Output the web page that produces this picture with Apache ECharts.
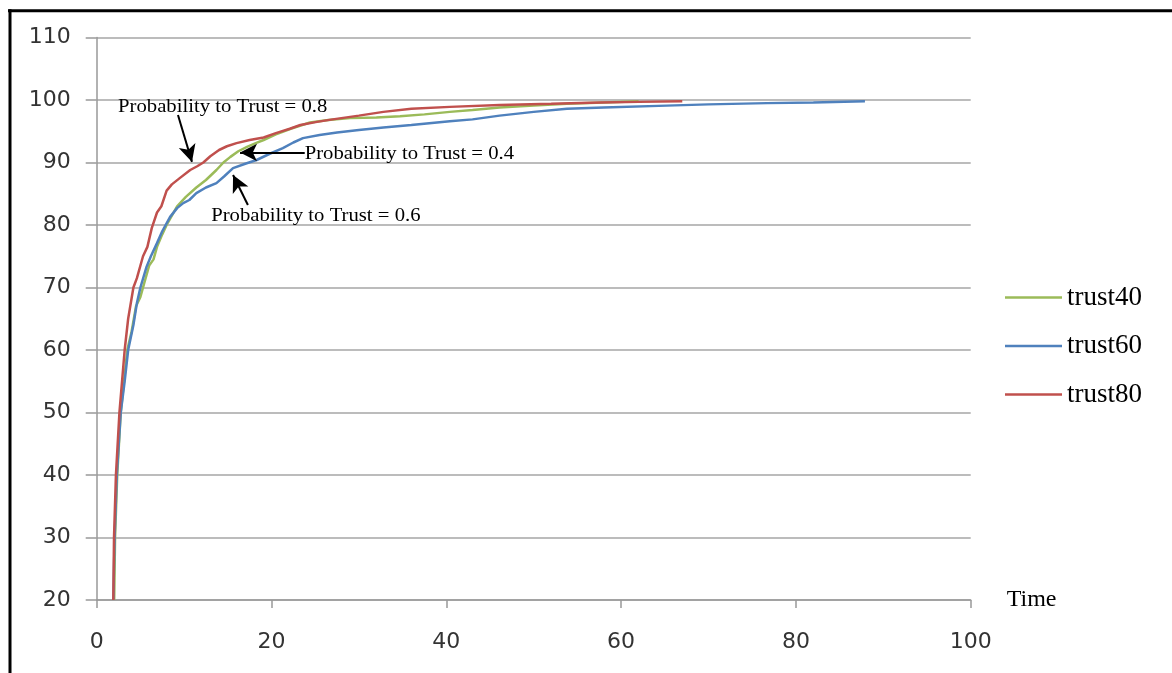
<!DOCTYPE html>
<html><head><meta charset="utf-8">
<script src="https://cdn.jsdelivr.net/npm/echarts@6/dist/echarts.min.js"></script>
<style>html,body{margin:0;padding:0;background:#fff}#c{width:1172px;height:673px}</style>
</head><body><div id="c"></div>
<script>
const seriesNames = ['trust40', 'trust60', 'trust80'];
const seriesColors = ['#9bbb59', '#4f81bd', '#c0504d'];

const trust40 = [[2.0,20],[2.1,30],[2.35,40],[2.75,50],[3.5,60],[4.0,63],[4.5,67],[5.0,68.5],[5.5,71],[6.0,73.5],[6.5,74.5],[6.9,76.5],[7.5,78.5],[8.0,80],[8.6,81.5],[9.2,83],[10.2,84.5],[11.4,86],[12.5,87.2],[13.7,88.8],[14.5,90],[15.3,90.9],[16.2,91.8],[17.2,92.5],[18.2,93.1],[19.1,93.6],[20.5,94.5],[22.2,95.4],[24.4,96.4],[26.5,96.8],[29,97.1],[32,97.2],[34.7,97.4],[37.5,97.7],[40.4,98.1],[43,98.4],[46.1,98.8],[50,99.1],[53.8,99.4],[58,99.6],[62,99.8]];

const trust60 = [[1.9,20],[2.05,30],[2.3,40],[2.75,50],[3.2,55],[3.6,60],[4.2,64],[4.6,67.5],[5.0,70],[5.7,73.3],[6.2,75],[6.9,77.1],[7.5,79],[8.4,81.3],[9.2,82.7],[9.9,83.5],[10.6,84],[11.4,85.1],[12.5,86],[13.7,86.7],[14.6,87.8],[15.6,89.1],[17,89.8],[18.3,90.4],[19.8,91.4],[21.3,92.3],[22.5,93.2],[23.6,93.9],[25.5,94.4],[27.5,94.8],[30,95.2],[32.8,95.6],[36,96],[40.4,96.6],[43,96.9],[46.1,97.5],[50,98.1],[53.8,98.6],[58,98.8],[65.2,99.1],[70,99.3],[76.7,99.5],[82,99.6],[87.9,99.8]];

const trust80 = [[1.9,20],[1.98,30],[2.2,40],[2.6,50],[3.2,60],[3.6,65],[4.2,70],[4.6,71.5],[5.3,75],[5.8,76.5],[6.3,79.5],[6.9,82],[7.4,83],[8.0,85.5],[8.6,86.5],[9.5,87.5],[10.7,88.8],[11.5,89.4],[12.2,90],[13.0,91],[14.0,92],[14.9,92.6],[16.0,93.1],[17.5,93.6],[19.1,94],[20.5,94.7],[22.1,95.4],[23.3,96],[25.2,96.5],[27,96.9],[30,97.5],[32.8,98.1],[36,98.6],[40.4,98.9],[46.1,99.2],[52,99.4],[57.6,99.6],[62,99.7],[67,99.8]];

const xMin = 0, xMax = 100, xInterval = 20;
const yMin = 20, yMax = 110, yInterval = 10;
const xAxisName = 'Time';

const annotationTexts = ['Probability to Trust = 0.8', 'Probability to Trust = 0.4', 'Probability to Trust = 0.6'];
const annotationAnchors = [[2.44, 98.9], [23.8, 91.4], [13.1, 81.4]];
const arrowStarts = [[9.3, 97.6], [23.8, 91.6], [17.3, 83.2]];
const arrowEnds = [[10.9, 90.1], [16.4, 91.6], [15.6, 88.0]];

const chart = echarts.init(document.getElementById('c'), null, {renderer: 'canvas'});
const seriesData = [trust40, trust60, trust80];

const series = seriesNames.map((name, i) => ({
  name: name,
  type: 'line',
  data: seriesData[i],
  symbol: 'none',
  smooth: false,
  color: seriesColors[i],
  lineStyle: {width: 2.5, color: seriesColors[i]},
  z: 3 + i
}));

series.push({
  name: 'arrows',
  type: 'line',
  data: [],
  symbol: 'none',
  silent: true,
  markLine: {
    silent: true,
    animation: false,
    label: {show: false},
    lineStyle: {color: '#000', width: 2, type: 'solid'},
    symbolSize: [13, 17],
    data: arrowStarts.map((s, i) => [
      {coord: s, symbol: 'none'},
      {coord: arrowEnds[i], symbol: 'arrow'}
    ])
  },
  z: 10
});

const option = {
  animation: false,
  backgroundColor: '#fff',
  grid: {left: 96.7, right: 201.3, top: 37.5, bottom: 73, containLabel: false},
  legend: {
    data: seriesNames,
    orient: 'vertical',
    left: 1005,
    top: 284,
    padding: 0,
    icon: 'path://M0,0 L57,0 L57,2.5 L0,2.5 Z',
    itemWidth: 57,
    itemHeight: 2.5,
    itemGap: 21.5,
    textStyle: {fontFamily: 'Liberation Serif', fontSize: 27, color: '#000', lineHeight: 26, padding: [0,0,0,0]}
  },
  xAxis: {
    type: 'value',
    min: xMin, max: xMax, interval: xInterval,
    name: xAxisName,
    nameLocation: 'end',
    nameGap: 36,
    nameTextStyle: {fontFamily: 'Liberation Serif', fontSize: 24, color: '#000', align: 'left', verticalAlign: 'middle', padding: [0,0,14,0]},
    axisLine: {show: true, lineStyle: {color: '#999', width: 1.5}},
    axisTick: {show: true, inside: false, length: 8, lineStyle: {color: '#999', width: 1.5}},
    axisLabel: {fontFamily: 'DejaVu Sans', fontSize: 22, color: '#333', margin: 31},
    splitLine: {show: false}
  },
  yAxis: {
    type: 'value',
    min: yMin, max: yMax, interval: yInterval,
    axisLine: {show: true, lineStyle: {color: '#999', width: 1.5}},
    axisTick: {show: true, inside: false, length: 11, lineStyle: {color: '#999', width: 1.5}},
    axisLabel: {fontFamily: 'DejaVu Sans', fontSize: 22, color: '#333', margin: 26},
    splitLine: {show: true, lineStyle: {color: '#a6a6a6', width: 1.5}}
  },
  series: series
};
chart.setOption(option);

const graphics = annotationTexts.map((t, i) => {
  const p = chart.convertToPixel({gridIndex: 0}, annotationAnchors[i]);
  return {
    type: 'text',
    x: p[0], y: p[1],
    scaleX: 1.15, scaleY: 1.05,
    z: 20,
    style: {text: t, x: 0, y: 0, font: '18px "Liberation Serif"', fill: '#000', align: 'left', verticalAlign: 'middle'}
  };
});
graphics.push({type: 'line', z: 30, shape: {x1: 8, y1: 10.8, x2: 1172, y2: 10.8}, style: {stroke: '#000', lineWidth: 3}});
graphics.push({type: 'line', z: 30, shape: {x1: 10, y1: 9.3, x2: 10, y2: 673}, style: {stroke: '#000', lineWidth: 3}});
chart.setOption({graphic: graphics});
</script>
</body></html>
